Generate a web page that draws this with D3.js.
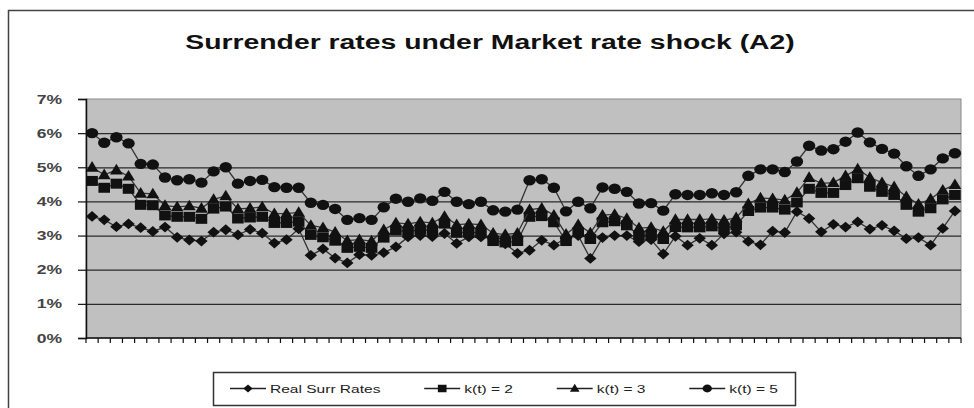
<!DOCTYPE html>
<html>
<head>
<meta charset="utf-8">
<script src="https://cdn.jsdelivr.net/npm/d3@7"></script>
<style>
  html, body { margin: 0; padding: 0; background: #fff; overflow: hidden; }
</style>
</head>
<body>
<div id="chart"></div>
<script>
// ═══════════════════════════════════════════════
// Surrender rates under Market rate shock (A2)
// 72 periods, four series, values in %
// ═══════════════════════════════════════════════

(function () {

  const TITLE   = "Surrender rates under Market rate shock (A2)";
  const PERIODS = d3.range(1, 73);
  const Y_TICKS = [0, 1, 2, 3, 4, 5, 6, 7];
  const NAMES   = ["Real Surr Rates", "k(t) = 2", "k(t) = 3", "k(t) = 5"];

  const REAL = [3.56, 3.46, 3.26, 3.34, 3.23, 3.12, 3.25, 2.95, 2.87, 2.84, 3.10, 3.17,
                3.02, 3.18, 3.07, 2.78, 2.88, 3.20, 2.42, 2.61, 2.34, 2.20, 2.44, 2.42,
                2.50, 2.67, 2.96, 3.00, 2.97, 3.06, 2.77, 2.96, 2.96, 2.91, 2.76, 2.48,
                2.57, 2.86, 2.72, 2.92, 3.00, 2.33, 2.94, 3.00, 3.00, 2.82, 2.88, 2.46,
                2.98, 2.72, 2.92, 2.72, 3.05, 3.10, 2.83, 2.73, 3.13, 3.09, 3.70, 3.50,
                3.11, 3.33, 3.25, 3.40, 3.19, 3.30, 3.14, 2.91, 2.94, 2.72, 3.21, 3.72];

  const K2   = [4.60, 4.40, 4.52, 4.37, 3.90, 3.89, 3.59, 3.55, 3.55, 3.49, 3.79, 3.85,
                3.50, 3.53, 3.55, 3.37, 3.37, 3.41, 3.02, 2.95, 2.85, 2.64, 2.67, 2.64,
                2.94, 3.15, 3.12, 3.17, 3.15, 3.35, 3.08, 3.10, 3.08, 2.84, 2.80, 2.84,
                3.55, 3.57, 3.39, 2.84, 3.10, 2.90, 3.39, 3.42, 3.30, 3.00, 3.02, 2.90,
                3.25, 3.24, 3.24, 3.27, 3.20, 3.30, 3.72, 3.82, 3.82, 3.76, 3.97, 4.37,
                4.25, 4.25, 4.48, 4.68, 4.43, 4.28, 4.19, 3.90, 3.70, 3.80, 4.06, 4.19];

  const K3   = [5.00, 4.78, 4.92, 4.74, 4.24, 4.22, 3.88, 3.84, 3.87, 3.80, 4.06, 4.16,
                3.78, 3.80, 3.84, 3.64, 3.64, 3.68, 3.30, 3.23, 3.10, 2.85, 2.88, 2.84,
                3.17, 3.37, 3.34, 3.40, 3.37, 3.56, 3.32, 3.34, 3.32, 3.07, 3.03, 3.07,
                3.76, 3.80, 3.60, 3.04, 3.32, 3.08, 3.60, 3.62, 3.50, 3.22, 3.24, 3.12,
                3.47, 3.47, 3.47, 3.49, 3.45, 3.52, 3.93, 4.10, 4.08, 4.04, 4.26, 4.70,
                4.53, 4.55, 4.75, 4.95, 4.70, 4.55, 4.43, 4.14, 3.92, 4.07, 4.33, 4.49];

  const K5   = [6.00, 5.72, 5.88, 5.70, 5.10, 5.08, 4.70, 4.62, 4.65, 4.55, 4.88, 5.00,
                4.52, 4.60, 4.63, 4.42, 4.40, 4.40, 3.96, 3.90, 3.78, 3.46, 3.51, 3.46,
                3.83, 4.08, 3.99, 4.09, 4.02, 4.28, 3.99, 3.92, 3.99, 3.74, 3.70, 3.76,
                4.62, 4.65, 4.40, 3.71, 3.99, 3.80, 4.41, 4.37, 4.28, 3.94, 3.95, 3.73,
                4.21, 4.19, 4.19, 4.24, 4.19, 4.27, 4.75, 4.94, 4.94, 4.86, 5.17, 5.63,
                5.49, 5.53, 5.75, 6.02, 5.73, 5.54, 5.40, 5.03, 4.75, 4.94, 5.26, 5.41];

  const SERIES = [
    { name: NAMES[0], values: REAL, marker: "diamond"  },
    { name: NAMES[1], values: K2,   marker: "square"   },
    { name: NAMES[2], values: K3,   marker: "triangle" },
    { name: NAMES[3], values: K5,   marker: "circle"   }
  ];

  const W = 974, H = 408;
  const SX = 1.35;                       // the picture is stretched sideways
  const FONT = "'Liberation Sans', Arial, sans-serif";
  const INK  = "#111";
  const plot = { left: 86, right: 961, top: 99, bottom: 338 };

  const MARKS = {
    diamond:  "M0,-5.4L6.2,0L0,5.4L-6.2,0Z",
    square:   "M-5.8,-5H5.8V5H-5.8Z",
    triangle: "M0,-6.2L6.4,4.4H-6.4Z"
  };

  const svg = d3.select("#chart").append("svg")
    .attr("width", W).attr("height", H);

  // chart frame
  svg.append("rect").attr("x", 8.5).attr("y", 10.5)
    .attr("width", W + 20).attr("height", H + 20)
    .attr("fill", "#fff").attr("stroke", "#444").attr("stroke-width", 1.5);

  // title
  svg.append("g").attr("transform", `translate(490,49) scale(${SX},1)`)
    .append("text").attr("text-anchor", "middle")
    .attr("font-family", FONT).attr("font-weight", "bold")
    .attr("font-size", "21px").attr("fill", "#111")
    .text(TITLE);

  // ── Scales ───────────────────────────────────
  const x = d3.scaleBand().domain(PERIODS).range([plot.left, plot.right]);
  const y = d3.scaleLinear().domain([0, 7]).range([plot.bottom, plot.top]);
  const cx = p => x(p) + x.bandwidth() / 2;

  // plot area
  svg.append("rect")
    .attr("x", plot.left).attr("y", plot.top)
    .attr("width", plot.right - plot.left).attr("height", plot.bottom - plot.top)
    .attr("fill", "#c0c0c0").attr("stroke", "#8a8a8a").attr("stroke-width", 1);

  // grid
  svg.append("g").attr("transform", `translate(${plot.left},0)`)
    .call(d3.axisLeft(y).tickValues(Y_TICKS.filter(t => t > 0 && t < 7))
      .tickSize(-(plot.right - plot.left)).tickFormat(""))
    .call(g => {
      g.select(".domain").remove();
      g.selectAll(".tick line").attr("stroke", "#2a2a2a").attr("stroke-width", 1.2);
    });

  // Y axis
  const yAxis = svg.append("g").attr("transform", `translate(${plot.left},0)`)
    .call(d3.axisLeft(y).tickValues(Y_TICKS).tickSize(8).tickFormat(""));
  yAxis.select(".domain").attr("stroke", INK).attr("stroke-width", 1.5);
  yAxis.selectAll(".tick line").attr("stroke", INK).attr("stroke-width", 1.2);

  svg.append("g").selectAll("g").data(Y_TICKS).join("g")
    .attr("transform", d => `translate(62,${y(d) + 4.5}) scale(${SX},1)`)
    .append("text").attr("text-anchor", "end")
    .attr("font-family", FONT).attr("font-weight", "bold")
    .attr("font-size", "13px").attr("fill", "#444")
    .text(d => d + "%");

  // X axis: ticks between categories, no labels
  const edges = PERIODS.map(p => x(p)).concat([plot.right]);
  svg.append("line").attr("x1", plot.left).attr("x2", plot.right)
    .attr("y1", plot.bottom).attr("y2", plot.bottom)
    .attr("stroke", INK).attr("stroke-width", 1.5);
  svg.append("g").selectAll("line").data(edges).join("line")
    .attr("x1", d => d).attr("x2", d => d)
    .attr("y1", plot.bottom).attr("y2", plot.bottom + 5)
    .attr("stroke", INK).attr("stroke-width", 1.2);

  // ── Series ───────────────────────────────────
  const line = d3.line().x((d, i) => cx(PERIODS[i])).y(d => y(d));

  function drawMarker(sel, type) {
    if (type === "circle") {
      sel.append("ellipse").attr("rx", 6.2).attr("ry", 5.2).attr("fill", INK);
    } else {
      sel.append("path").attr("d", MARKS[type]).attr("fill", INK);
    }
  }

  SERIES.forEach(s => {
    const g = svg.append("g");
    g.append("path").datum(s.values)
      .attr("d", line).attr("fill", "none")
      .attr("stroke", "#333").attr("stroke-width", 1.3);
    g.selectAll("g").data(s.values).join("g")
      .attr("transform", (d, i) => `translate(${cx(PERIODS[i])},${y(d)})`)
      .each(function () { drawMarker(d3.select(this), s.marker); });
  });

  // ── Legend ───────────────────────────────────
  const box = { x: 213, y: 372, w: 582, h: 33 };
  svg.append("rect").attr("x", box.x + 0.5).attr("y", box.y + 0.5)
    .attr("width", box.w).attr("height", box.h)
    .attr("fill", "#fff").attr("stroke", "#333").attr("stroke-width", 1.5);

  const items = svg.append("g").selectAll("g").data(SERIES).join("g");
  items.append("line").attr("x1", 0).attr("x2", 36).attr("y1", 0).attr("y2", 0)
    .attr("stroke", "#222").attr("stroke-width", 1.3);
  items.append("g").attr("transform", "translate(18,0) scale(0.75)")
    .each(function (d) { drawMarker(d3.select(this), d.marker); });
  const labels = items.append("g").attr("transform", `translate(40,4) scale(${SX},1)`)
    .append("text").attr("font-family", FONT).attr("font-size", "11.5px")
    .attr("fill", "#222").text(d => d.name);

  const widths = labels.nodes().map(n => 40 + n.getComputedTextLength() * SX);
  const pad = 17;
  const gap = (box.w - 2 * pad - d3.sum(widths)) / (widths.length - 1);
  let cur = box.x + pad;
  items.attr("transform", (d, i) => {
    const t = `translate(${cur},${box.y + box.h / 2})`;
    cur += widths[i] + gap;
    return t;
  });

})();
</script>
</body>
</html>
